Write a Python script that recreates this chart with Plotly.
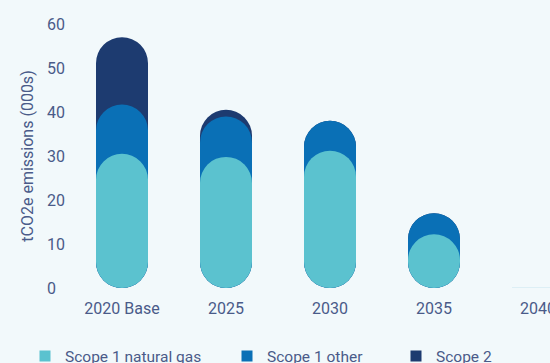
import plotly.graph_objects as go

# ---- data ----
categories = ["2020 Base", "2025", "2030", "2035", "2040"]
scope1_natural_gas = [30.5, 29.8, 31.2, 12.2, 0]
scope1_other = [11.2, 9.2, 6.8, 4.8, 0]
scope2 = [15.3, 1.5, 0, 0, 0]
y_ticks = [0, 10, 20, 30, 40, 50, 60]

series_names = ["Scope 1 natural gas", "Scope 1 other", "Scope 2"]
colors = ["#5bc2cf", "#0a70b6", "#1d3b70"]
legend_ids = ["legend", "legend2", "legend3"]

FONT = "Roboto"
TEXT = "#4a5b89"
BG = "#f2f9fb"
BAR_W = 0.5

# cumulative tops of each stacked layer
cum_ng = list(scope1_natural_gas)
cum_other = [a + b for a, b in zip(cum_ng, scope1_other)]
cum_s2 = [a + b for a, b in zip(cum_other, scope2)]
cumulative = [cum_ng, cum_other, cum_s2]

fig = go.Figure()

# draw back-to-front: Scope 2, Scope 1 other, Scope 1 natural gas (pill shapes)
for i in [2, 1, 0]:
    tops = cumulative[i]
    fig.add_trace(go.Bar(
        x=categories, y=tops, base=[0] * len(tops), width=BAR_W,
        marker=dict(color=colors[i], line=dict(width=0), cornerradius="50%"),
        name=series_names[i], showlegend=False, hoverinfo="skip",
    ))

# legend entries (square swatches)
for i in range(3):
    fig.add_trace(go.Scatter(
        x=[None], y=[None], mode="markers",
        marker=dict(symbol="square", size=11, color=colors[i]),
        name=series_names[i], legend=legend_ids[i], showlegend=True,
    ))

# zero-height bar outline for empty categories
for k, c in enumerate(categories):
    if cum_s2[k] == 0:
        fig.add_trace(go.Scatter(
            x=[k - BAR_W / 2, k + BAR_W / 2], y=[0, 0], mode="lines",
            line=dict(color="#c9e4ee", width=1), showlegend=False,
            hoverinfo="skip", xaxis="x2", cliponaxis=False,
        ))

legend_x = [25 / 550, 227 / 550, 396 / 550]
layout_legends = {}
for lid, lx in zip(legend_ids, legend_x):
    layout_legends[lid] = dict(
        x=lx, y=-0.195, xanchor="left", yanchor="top", xref="paper", yref="paper",
        orientation="h", bgcolor="rgba(0,0,0,0)", borderwidth=0,
        font=dict(family=FONT, size=15.5, color=TEXT),
    )

x_range = [-0.5, len(categories) - 1 + 12 / 104]

fig.update_layout(
    width=550, height=363,
    margin=dict(l=0, r=0, t=24, b=75, autoexpand=False),
    paper_bgcolor=BG, plot_bgcolor=BG,
    barmode="overlay",
    font=dict(family=FONT, size=16, color=TEXT),
    xaxis=dict(
        type="category", domain=[70 / 550, 1], range=x_range,
        showgrid=False, zeroline=False, showline=False, ticks="",
        tickfont=dict(family=FONT, size=16, color=TEXT),
        ticklabelstandoff=9,
    ),
    xaxis2=dict(
        overlaying="x", domain=[70 / 550, 1], range=x_range, visible=False,
        anchor="y",
    ),
    yaxis=dict(
        range=[0, 60], tickvals=y_ticks, anchor="free", position=43 / 550,
        ticklabelposition="inside", ticklabeloverflow="allow",
        showgrid=False, zeroline=False, showline=False, ticks="",
        tickfont=dict(family=FONT, size=16, color=TEXT),
        title=dict(text="tCO2e emissions (000s)",
                   font=dict(family=FONT, size=16, color=TEXT), standoff=8),
    ),
    **layout_legends,
)

fig.write_html("out.html")
